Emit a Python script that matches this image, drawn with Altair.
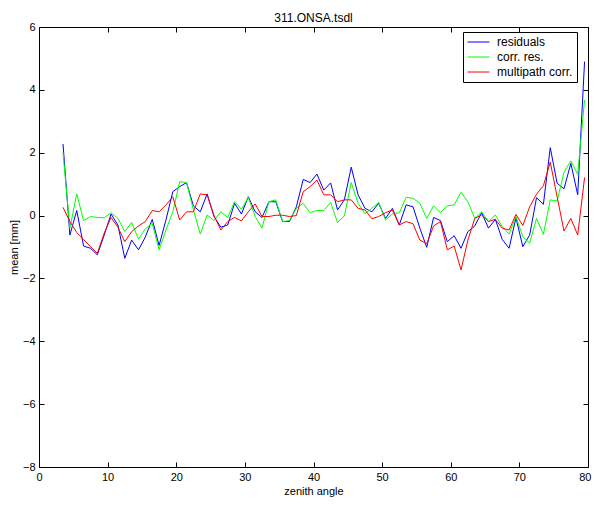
import altair as alt
import pandas as pd

angle = [3.5, 4.5, 5.5, 6.5, 7.5, 8.5, 9.5, 10.5, 11.5, 12.5, 13.5, 14.5, 15.5, 16.5,
         17.5, 18.5, 19.5, 20.5, 21.5, 22.5, 23.5, 24.5, 25.5, 26.5, 27.5, 28.5, 29.5,
         30.5, 31.5, 32.5, 33.5, 34.5, 35.5, 36.5, 37.5, 38.5, 39.5, 40.5, 41.5, 42.5,
         43.5, 44.5, 45.5, 46.5, 47.5, 48.5, 49.5, 50.5, 51.5, 52.5, 53.5, 54.5, 55.5,
         56.5, 57.5, 58.5, 59.5, 60.5, 61.5, 62.5, 63.5, 64.5, 65.5, 66.5, 67.5, 68.5,
         69.5, 70.5, 71.5, 72.5, 73.5, 74.5, 75.5, 76.5, 77.5, 78.5, 79.5]

residuals = [2.28, -0.62, 0.16, -0.97, -1.04, -1.25, -0.62, 0.05, -0.30, -1.36, -0.78,
             -1.09, -0.68, -0.12, -0.95, -0.14, 0.76, 0.92, 1.05, 0.31, 0.12, 0.69, -0.03,
             -0.37, -0.30, 0.39, 0.05, 0.60, 0.12, -0.06, 0.44, 0.44, -0.19, -0.19, 0.28,
             1.15, 1.05, 1.32, 0.81, 1.04, 0.18, 0.50, 1.54, 0.66, 0.23, 0.12, 0.39, -0.09,
             0.23, -0.30, 0.34, 0.28, -0.40, -1.01, -0.06, -0.16, -0.83, -0.64, -1.04,
             -0.51, -0.33, 0.09, -0.40, -0.12, -0.76, -1.04, -0.07, -0.99, -0.62, 0.57,
             0.36, 2.16, 1.03, 0.85, 1.66, 0.66, 4.90]

corr_res = [2.00, -0.40, 0.69, -0.16, -0.03, -0.06, -0.07, 0.09, -0.09, -0.51, -0.22,
            -0.75, -0.42, -0.25, -1.09, -0.46, 0.12, 1.08, 1.05, 0.18, -0.59, 0.02, -0.16,
            0.12, -0.06, 0.44, 0.20, 0.58, -0.03, -0.40, 0.44, 0.50, -0.19, -0.16, 0.23,
            0.39, 0.09, 0.16, 0.16, 0.42, -0.22, -0.01, 1.05, 0.39, 0.06, 0.23, 0.42,
            -0.14, 0.05, 0.09, 0.58, 0.55, 0.39, -0.09, 0.31, 0.09, 0.31, 0.34, 0.74,
            0.44, -0.09, 0.12, -0.19, 0.02, -0.35, -0.59, -0.03, -0.67, -0.88, -0.09,
            -0.60, 0.50, 0.46, 1.38, 1.74, 1.31, 3.68]

multipath = [0.26, -0.19, -0.54, -0.76, -0.99, -1.20, -0.56, -0.06, -0.37, -0.83, -0.51,
             -0.33, -0.19, 0.16, 0.12, 0.34, 0.60, -0.14, 0.12, 0.12, 0.69, 0.66, 0.00,
             -0.46, -0.19, -0.06, -0.17, 0.12, 0.37, -0.03, -0.03, 0.01, 0.01, -0.03, 0.00,
             0.76, 0.92, 1.13, 0.66, 0.66, 0.44, 0.50, 0.50, 0.23, 0.18, -0.10, -0.03,
             0.09, 0.18, -0.30, -0.19, -0.26, -0.78, -0.90, -0.33, -0.19, -1.09, -0.97,
             -1.73, -0.78, -0.09, 0.02, -0.19, -0.12, -0.40, -0.46, 0.04, -0.32, 0.28,
             0.68, 0.95, 1.70, 0.60, -0.49, -0.09, -0.62, 1.21]

series_names = ["residuals", "corr. res.", "multipath corr."]
series_colors = ["#0000ff", "#00ff00", "#ff0000"]

x_ticks = [0, 10, 20, 30, 40, 50, 60, 70, 80]
y_ticks = [-8, -6, -4, -2, 0, 2, 4, 6]

rows = []
for name, vals in zip(series_names, [residuals, corr_res, multipath]):
    for a, v in zip(angle, vals):
        rows.append({"angle": a, "value": v, "series": name})
df = pd.DataFrame(rows)
df["order"] = df["series"].map({n: i for i, n in enumerate(series_names)})

FONT = "Liberation Sans"
xscale = alt.Scale(domain=[0, 80], nice=False, zero=False)
yscale = alt.Scale(domain=[-8, 6], nice=False, zero=False)

lines = alt.Chart(df).mark_line(strokeWidth=1, clip=True).encode(
    x=alt.X("angle:Q", scale=xscale,
            axis=alt.Axis(values=x_ticks, title="zenith angle",
                          labelFlush=True, labelFlushOffset=3,
                          domain=False, ticks=False, labelPadding=4, titlePadding=3,
                          labelFontSize=11, titleFontSize=11, labelFont=FONT, titleFont=FONT,
                          titleFontWeight="normal", labelColor="black", titleColor="black",
                          grid=False)),
    y=alt.Y("value:Q", scale=yscale,
            axis=alt.Axis(values=y_ticks, title="mean  [mm]", labelFlush=False,
                          domain=False, ticks=False, labelPadding=4, titlePadding=3,
                          labelFontSize=11, titleFontSize=11, labelFont=FONT, titleFont=FONT,
                          titleFontWeight="normal", labelColor="black", titleColor="black",
                          grid=False)),
    color=alt.Color("series:N",
                    scale=alt.Scale(domain=series_names, range=series_colors),
                    sort=series_names,
                    legend=alt.Legend(title=None, orient="none", legendX=424, legendY=5,
                                      fillColor="white", strokeColor="black", padding=4,
                                      symbolType="stroke", symbolSize=480, symbolStrokeWidth=1,
                                      clipHeight=12, rowPadding=3,
                                      labelFontSize=12, labelFont=FONT, labelColor="black",
                                      labelOffset=7, labelLimit=200)),
    order=alt.Order("order:Q"),
)


def tick_layer(xorient, yorient):
    return alt.Chart(df).mark_line(opacity=0).encode(
        x=alt.X("angle:Q", scale=xscale,
                axis=alt.Axis(orient=xorient, values=x_ticks,
                              labels=False, domain=False, ticks=True, tickSize=5,
                              tickColor="black", offset=-5, title=None, grid=False)),
        y=alt.Y("value:Q", scale=yscale,
                axis=alt.Axis(orient=yorient, values=y_ticks,
                              labels=False, domain=False, ticks=True, tickSize=5,
                              tickColor="black", offset=-5, title=None, grid=False)),
        detail="series:N",
    )


chart = alt.layer(
    lines, tick_layer("bottom", "left"), tick_layer("top", "right")
).resolve_axis(x="independent", y="independent").properties(
    width=549, height=440,
    title=alt.TitleParams("311.ONSA.tsdl", fontSize=12, font=FONT, fontWeight="normal",
                          color="black", offset=0, dy=4),
    padding={"left": 31, "top": 19, "right": 4, "bottom": 32},
    autosize=alt.AutoSizeParams(type="none"),
).configure_view(stroke="black", strokeWidth=1)

chart.save("out.html", embed_options={"renderer": "svg", "actions": False})
